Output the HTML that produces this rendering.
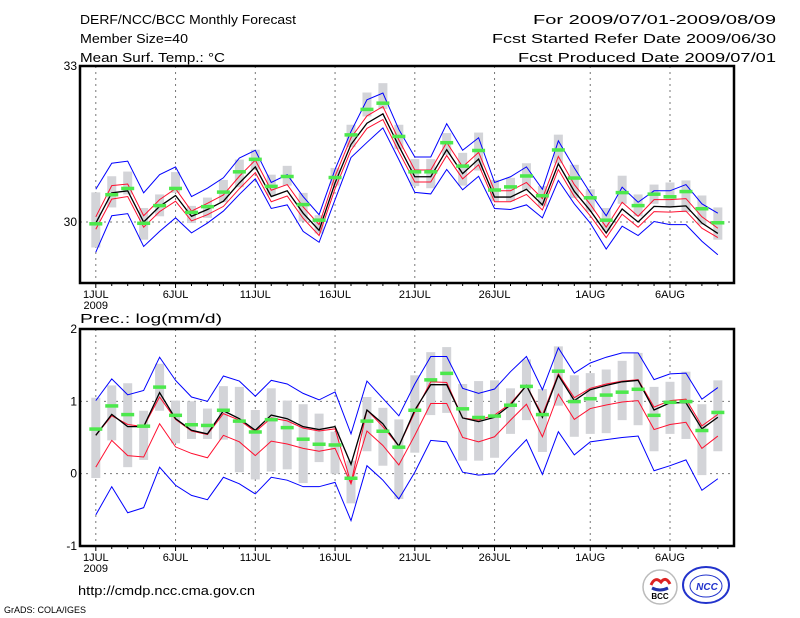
<!DOCTYPE html>
<html><head><meta charset="utf-8"><style>
html,body{margin:0;padding:0;background:#fff;width:800px;height:618px;overflow:hidden}
svg{display:block}
text{font-family:"Liberation Sans",sans-serif;fill:#000}
</style></head><body>
<svg id="chart" width="800" height="618" viewBox="0 0 800 618" xmlns="http://www.w3.org/2000/svg">
<text x="80" y="24" font-size="13" textLength="216" lengthAdjust="spacingAndGlyphs">DERF/NCC/BCC Monthly Forecast</text>
<text x="80" y="43" font-size="13" textLength="108" lengthAdjust="spacingAndGlyphs">Member Size=40</text>
<text x="80" y="62" font-size="13" textLength="145" lengthAdjust="spacingAndGlyphs">Mean Surf. Temp.: °C</text>
<text x="533" y="24" font-size="13" textLength="243" lengthAdjust="spacingAndGlyphs">For 2009/07/01-2009/08/09</text>
<text x="492" y="43" font-size="13" textLength="284" lengthAdjust="spacingAndGlyphs">Fcst Started Refer Date 2009/06/30</text>
<text x="518" y="62" font-size="13" textLength="258" lengthAdjust="spacingAndGlyphs">Fcst Produced Date 2009/07/01</text>
<text x="80" y="323" font-size="13" textLength="142" lengthAdjust="spacingAndGlyphs">Prec.: log(mm/d)</text>
<text x="78" y="595" font-size="13" textLength="177" lengthAdjust="spacingAndGlyphs">http://cmdp.ncc.cma.gov.cn</text>
<text x="4" y="613" font-size="9">GrADS: COLA/IGES</text>
<g>
<circle cx="660" cy="587" r="17" fill="#fff" stroke="#bbb" stroke-width="1.5"/>
<path d="M651 585 q4 -9 10 -3 q5 -6 9 2" fill="none" stroke="#d22" stroke-width="3"/>
<path d="M652 588 q8 4 16 0" fill="none" stroke="#23a" stroke-width="3"/>
<text x="660" y="599" font-size="8" font-weight="bold" text-anchor="middle" font-family="Liberation Serif,serif">BCC</text>
</g>
<g>
<ellipse cx="706" cy="585" rx="23" ry="18" fill="#fff" stroke="#23c" stroke-width="2"/>
<ellipse cx="706" cy="586" rx="16" ry="11" fill="none" stroke="#23c" stroke-width="1"/>
<text x="707" y="590" font-size="10" font-weight="bold" font-style="italic" text-anchor="middle" style="fill:#23c">NCC</text>
</g>
</svg>
<script>
// ---- shared x axis ----
const days = 40;
const xTickIdx = [0,5,10,15,20,25,31,36];
const xTickLabels = ["1JUL","6JUL","11JUL","16JUL","21JUL","26JUL","1AUG","6AUG"];

// ---- temperature panel data ----
const tYTicks = [30,33];
const tMean = [29.98,30.56,30.60,30.00,30.30,30.51,30.11,30.24,30.40,30.75,31.06,30.49,30.60,30.17,29.84,30.75,31.49,31.90,32.08,31.46,30.87,30.87,31.39,30.93,31.21,30.48,30.48,30.63,30.33,31.12,30.59,30.22,29.79,30.25,30.00,30.30,30.29,30.31,29.98,29.78];
const tRedHi = [30.10,30.70,30.73,30.12,30.43,30.64,30.21,30.36,30.52,30.88,31.19,30.61,30.72,30.29,29.95,30.88,31.62,32.04,32.22,31.58,31.00,31.00,31.53,31.06,31.34,30.60,30.60,30.76,30.45,31.26,30.72,30.34,29.90,30.38,30.11,30.43,30.43,30.45,30.10,29.88];
const tRedLo = [29.86,30.44,30.49,29.90,30.20,30.40,30.02,30.14,30.30,30.64,30.95,30.39,30.50,30.07,29.74,30.64,31.38,31.80,31.97,31.35,30.77,30.77,31.28,30.83,31.10,30.39,30.39,30.53,30.23,31.01,30.49,30.12,29.70,30.15,29.90,30.20,30.19,30.21,29.88,29.70];
const tBlueHi = [30.63,31.13,31.17,30.56,30.91,31.06,30.49,30.65,30.85,31.23,31.38,30.76,30.91,30.49,30.14,31.01,31.74,32.35,32.48,31.78,31.25,31.25,31.89,31.38,31.62,30.76,30.87,31.06,30.63,31.56,31.04,30.56,30.12,30.67,30.38,30.60,30.60,30.72,30.35,30.17];
const tBlueLo = [29.42,30.12,30.16,29.53,29.82,30.08,29.79,29.98,30.21,30.53,30.83,30.26,30.33,29.82,29.61,30.43,31.24,31.53,31.81,31.20,30.57,30.54,31.01,30.62,30.88,30.26,30.24,30.33,30.08,30.80,30.35,29.98,29.48,29.92,29.74,30.01,29.95,29.95,29.63,29.37];
const tObs = [29.97,30.53,30.65,29.98,30.32,30.65,30.19,30.30,30.58,30.97,31.21,30.69,30.88,30.34,30.04,30.86,31.68,32.17,32.29,31.65,30.97,30.97,31.53,31.08,31.38,30.62,30.68,30.89,30.51,31.39,30.85,30.47,30.04,30.57,30.32,30.54,30.49,30.59,30.26,29.99];
const tBoxHi = [30.57,30.88,30.97,30.27,30.53,30.96,30.31,30.47,30.81,31.20,31.39,30.91,31.08,30.56,30.13,31.04,31.87,32.49,32.67,31.87,31.21,31.21,31.71,31.33,31.72,30.81,30.85,31.13,30.69,31.68,31.10,30.63,30.27,30.89,30.53,30.72,30.76,30.80,30.51,30.28];
const tBoxLo = [29.51,30.28,30.53,29.66,30.11,30.56,29.98,30.08,30.38,30.67,31.01,30.51,30.70,30.01,29.78,30.70,31.44,32.03,32.17,31.40,30.69,30.65,31.29,30.70,30.99,30.40,30.40,30.62,30.30,31.13,30.46,30.20,29.84,30.35,30.11,30.35,30.30,30.19,29.95,29.66];

// ---- precipitation panel data ----
const pYTicks = [-1,0,1,2];
const pMean = [0.53,0.82,0.65,0.65,1.12,0.76,0.60,0.55,0.87,0.76,0.60,0.81,0.76,0.65,0.61,0.65,0.13,0.88,0.69,0.38,0.88,1.23,1.23,0.77,0.72,0.78,0.95,1.22,0.78,1.36,1.01,1.16,1.22,1.27,1.29,0.88,0.98,0.98,0.62,0.78];
const pRedHi = [0.53,0.80,0.68,0.65,1.06,0.75,0.59,0.54,0.83,0.74,0.58,0.77,0.73,0.63,0.59,0.62,-0.13,0.88,0.65,0.38,0.85,1.27,1.26,0.77,0.74,0.81,0.97,1.22,0.81,1.38,1.05,1.18,1.24,1.28,1.30,0.92,1.01,1.03,0.66,0.82];
const pRedLo = [0.09,0.46,0.25,0.23,0.69,0.37,0.28,0.22,0.53,0.44,0.25,0.45,0.41,0.35,0.31,0.35,-0.14,0.59,0.39,0.12,0.53,0.97,0.97,0.50,0.44,0.51,0.74,0.96,0.51,1.10,0.75,0.90,0.95,0.99,1.01,0.61,0.68,0.71,0.35,0.52];
const pBlueHi = [1.01,1.31,1.09,1.15,1.61,1.29,1.06,1.00,1.35,1.28,1.07,1.29,1.24,1.11,1.02,1.13,0.55,1.28,1.04,0.80,1.24,1.62,1.62,1.18,1.11,1.17,1.41,1.62,1.16,1.74,1.39,1.53,1.61,1.67,1.67,1.30,1.38,1.39,1.03,1.19];
const pBlueLo = [-0.57,-0.18,-0.54,-0.47,0.09,-0.16,-0.30,-0.36,-0.05,-0.14,-0.28,-0.05,-0.09,-0.18,-0.18,-0.12,-0.65,0.11,-0.09,-0.35,0.02,0.46,0.44,0.02,-0.02,0.00,0.24,0.47,-0.01,0.58,0.26,0.44,0.47,0.50,0.52,0.04,0.11,0.19,-0.23,-0.07];
const pObs = [0.62,0.94,0.82,0.66,1.20,0.81,0.68,0.67,0.88,0.73,0.58,0.75,0.64,0.48,0.41,0.40,-0.06,0.73,0.59,0.37,0.88,1.30,1.39,0.90,0.78,0.80,0.95,1.21,0.82,1.42,1.00,1.04,1.09,1.13,1.17,0.81,0.99,1.00,0.60,0.85];
const pBoxHi = [1.05,1.22,1.25,0.87,1.52,1.01,1.00,0.90,1.21,1.20,0.88,1.18,1.01,0.96,0.83,0.58,0.18,1.06,0.91,0.75,1.36,1.68,1.75,1.24,1.28,1.29,1.18,1.58,1.17,1.76,1.36,1.39,1.44,1.56,1.67,1.20,1.27,1.41,0.96,1.29];
const pBoxLo = [-0.06,0.46,0.09,0.19,0.87,0.42,0.48,0.48,0.47,0.02,-0.08,0.03,0.06,-0.13,0.16,0.00,-0.41,0.31,0.11,-0.35,0.29,0.81,0.84,0.18,0.18,0.22,0.55,0.74,0.30,0.94,0.51,0.55,0.56,0.74,0.67,0.31,0.55,0.48,-0.02,0.31];

const NS = "http://www.w3.org/2000/svg";
const svg = document.getElementById("chart");
function mk(tag, attrs, parent){
  const e = document.createElementNS(NS, tag);
  for (const k in attrs) e.setAttribute(k, attrs[k]);
  (parent||svg).appendChild(e);
  return e;
}
const X0 = 80, X1 = 734;
function xOf(i){ return 95.8 + 15.95*i; }

function panel(name, top, bottom, yMin, yMax, yTicks, gridY, S){
  const g = mk("g", {});
  
  
  const y = v => bottom - (v - yMin)/(yMax - yMin)*(bottom - top);
  xTickIdx.forEach(i => {
    const l = mk("line", {x1:xOf(i), x2:xOf(i), y1:top, y2:bottom, stroke:"#777", "stroke-width":1, "stroke-dasharray":"2,4"}, g);
    
    
  });
  gridY.forEach(v => {
    const l = mk("line", {x1:X0, x2:X1, y1:y(v), y2:y(v), stroke:"#777", "stroke-width":1, "stroke-dasharray":"2,4"}, g);
    
    
  });
  for (let i=0;i<days;i++){
    const r = mk("rect", {x:xOf(i)-4.5, y:y(S.boxHi[i]), width:9, height:Math.max(1,y(S.boxLo[i])-y(S.boxHi[i])), fill:"#d3d4d8"}, g);
    
    
  }
  const line = (arr, col, w, nm) => {
    const p = mk("polyline", {points: arr.map((v,i)=>xOf(i)+","+y(v)).join(" "), fill:"none", stroke:col, "stroke-width":w}, g);
    
    
  };
  line(S.blueHi, "#0000ff", 1, 'upper-bound-line');
  line(S.blueLo, "#0000ff", 1, 'lower-bound-line');
  line(S.redHi, "#ff1030", 1, 'upper-quartile-line');
  line(S.redLo, "#ff1030", 1, 'lower-quartile-line');
  line(S.mean, "#000", 1.3, 'ensemble-mean-line');
  for (let i=0;i<days;i++){
    const r = mk("rect", {x:xOf(i)-6.5, y:y(S.obs[i])-1.5, width:13, height:3.5, fill:"#4ce84c"}, g);
    
    
  }
  const f = mk("rect", {x:X0, y:top, width:X1-X0, height:bottom-top, fill:"none", stroke:"#000", "stroke-width":2.5}, g);
  
  
  yTicks.forEach(v => {
    const t = mk("text", {x:X0-3, y:y(v)+4, "font-size":12, "text-anchor":"end"}, g);
    t.textContent = v;
    
    
  });
  for (let i=0;i<days;i++){
    const big = xTickIdx.includes(i);
    mk("line", {x1:xOf(i), x2:xOf(i), y1:bottom, y2:bottom+(big?5:3), stroke:"#000", "stroke-width":1}, g);
  }
  xTickIdx.forEach((i,k) => {
    const t = mk("text", {x:xOf(i), y:bottom+15, "font-size":11, "text-anchor":"middle"}, g);
    t.textContent = xTickLabels[k];
    
    
  });
  const yr = mk("text", {x:xOf(0), y:bottom+26, "font-size":11, "text-anchor":"middle"}, g);
  yr.textContent = "2009";
  
  
}

panel("temperature", 66, 283, 28.827, 33, tYTicks, [30],
  {mean:tMean, redHi:tRedHi, redLo:tRedLo, blueHi:tBlueHi, blueLo:tBlueLo, obs:tObs, boxHi:tBoxHi, boxLo:tBoxLo});
panel("precipitation", 329, 546, -1, 2, pYTicks, [0,1],
  {mean:pMean, redHi:pRedHi, redLo:pRedLo, blueHi:pBlueHi, blueLo:pBlueLo, obs:pObs, boxHi:pBoxHi, boxLo:pBoxLo});
</script>
</body></html>
